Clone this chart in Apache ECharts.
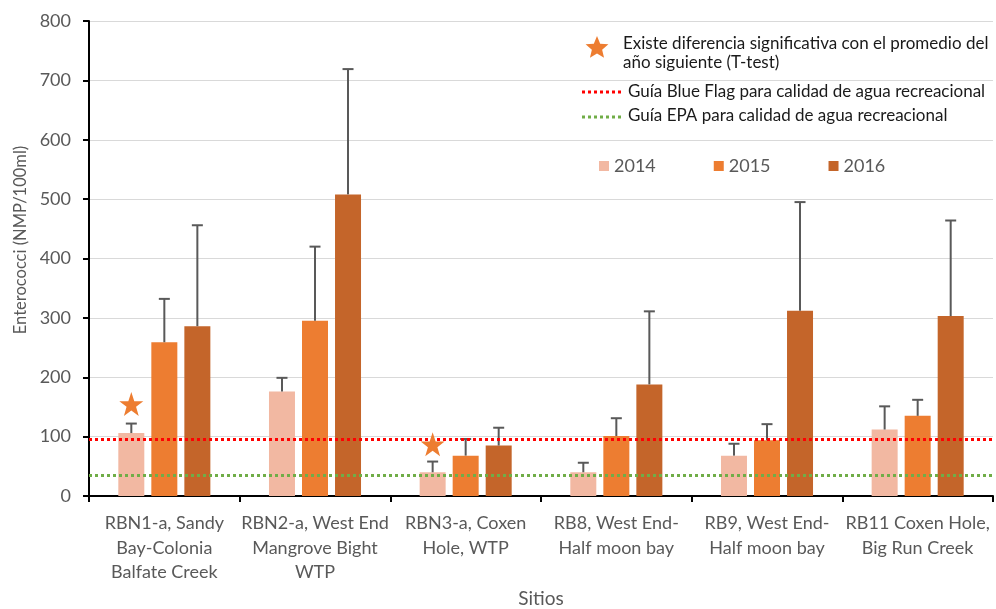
<!DOCTYPE html>
<html>
<head>
<meta charset="utf-8">
<script src="https://cdn.jsdelivr.net/npm/echarts@6/dist/echarts.min.js"></script>
<style>
  html, body { margin: 0; padding: 0; background: #fff; }
  #chart { width: 996px; height: 609px; }
</style>
</head>
<body>
<div id="chart"></div>
<script>
// Sites sampled
const sites = [
  'RBN1-a, Sandy\nBay-Colonia\nBalfate Creek',
  'RBN2-a, West End\nMangrove Bight\nWTP',
  'RBN3-a, Coxen\nHole, WTP',
  'RB8, West End-\nHalf moon bay',
  'RB9, West End-\nHalf moon bay',
  'RB11 Coxen Hole,\nBig Run Creek'
];
const years = ['2014', '2015', '2016'];

// Mean enterococci (NMP/100ml) per site and year
const mean2014 = [106, 176, 40, 40, 68, 112];
const mean2015 = [259, 295, 68, 101, 94, 135];
const mean2016 = [286, 508, 85, 188, 312, 303];

// Standard deviation (upper error bar)
const sd2014 = [16, 23, 18, 16, 20, 39];
const sd2015 = [73, 125, 28, 30, 27, 27];
const sd2016 = [170, 211, 30, 123, 183, 161];

// Significant difference vs. following year (star marker height)
const signif = [155, null, 87, null, null, null];

// Guideline thresholds
const blueFlag = 96;
const epa = 35;

const yTicks = [0, 100, 200, 300, 400, 500, 600, 700, 800];

const colors = ['#F2B8A2', '#ED7D31', '#C4652A'];
const means = [mean2014, mean2015, mean2016];
const sds = [sd2014, sd2015, sd2016];

const BAR_W = 26;
const GAP_RATIO = 0.27;
const STEP = BAR_W * (1 + GAP_RATIO);

const FONT = 'Lato, "Liberation Sans", Arial, sans-serif';
const STAR = 'path://M50,0 L61.8,35.1 L97.6,35.1 L68.8,56.7 L79.4,91.9 L50,70.5 L20.6,91.9 L31.2,56.7 L2.4,35.1 L38.2,35.1 Z';

// five-point star outline around (cx, cy)
function starPoints(cx, cy, r) {
  const pts = [];
  for (let j = 0; j < 10; j++) {
    const rr = j % 2 === 0 ? r : r * 0.45;
    const a = -Math.PI / 2 + j * Math.PI / 5;
    pts.push([cx + rr * Math.cos(a), cy + rr * Math.sin(a)]);
  }
  return pts;
}

const chart = echarts.init(document.getElementById('chart'), null, { renderer: 'canvas' });

const barSeries = years.map((y, i) => ({
  name: y,
  type: 'bar',
  data: means[i],
  barWidth: BAR_W,
  barGap: (GAP_RATIO * 100) + '%',
  itemStyle: { color: colors[i] },
  z: 2
}));

const errSeries = years.map((y, i) => ({
  name: y + ' sd',
  type: 'custom',
  data: means[i].map((m, k) => [k, m, sds[i][k]]),
  z: 4,
  renderItem: function (params, api) {
    const k = api.value(0), m = api.value(1), s = api.value(2);
    const base = api.coord([k, m]);
    const top = api.coord([k, m + s]);
    const x = base[0] + (i - 1) * STEP;
    const st = { stroke: '#595959', lineWidth: 2 };
    return {
      type: 'group',
      children: [
        { type: 'line', shape: { x1: x, y1: base[1], x2: x, y2: top[1] }, style: st },
        { type: 'line', shape: { x1: x - 5.5, y1: top[1], x2: x + 5.5, y2: top[1] }, style: st }
      ]
    };
  }
}));

const starSeries = {
  name: 'signif',
  type: 'scatter',
  data: signif,
  symbol: STAR,
  symbolSize: 24,
  symbolOffset: [-STEP, 0],
  itemStyle: { color: '#ED7D31', opacity: 1 },
  z: 5
};

const guideSeries = {
  name: 'guides',
  type: 'line',
  data: [],
  markLine: {
    silent: true,
    symbol: 'none',
    label: { show: false },
    data: [
      { yAxis: blueFlag, lineStyle: { color: '#FF0000', width: 3, type: [3, 3], opacity: 1 } },
      { yAxis: epa, lineStyle: { color: '#70AD47', width: 3, type: [3, 3], opacity: 1 } }
    ]
  },
  z: 3
};

const txt = { fill: '#1a1a1a', font: '17px ' + FONT };

chart.setOption({
  animation: false,
  grid: { left: 89, top: 21, right: 3, bottom: 113, outerBoundsMode: 'none', containLabel: false },
  legend: {
    data: years,
    left: 599, top: 157, padding: 0,
    icon: 'rect', itemWidth: 10, itemHeight: 10, itemGap: 58,
    textStyle: { fontFamily: FONT, fontSize: 18, color: '#595959' }
  },
  xAxis: {
    type: 'category',
    data: sites,
    name: 'Sitios',
    nameLocation: 'middle',
    nameGap: 89,
    nameTextStyle: { fontFamily: FONT, fontSize: 19, color: '#595959' },
    axisLine: { lineStyle: { color: '#000', width: 2 } },
    axisTick: { show: true, length: 6, lineStyle: { color: '#000', width: 2 } },
    axisLabel: { fontFamily: FONT, fontSize: 18, color: '#595959', lineHeight: 24.5, margin: 15, interval: 0 }
  },
  yAxis: {
    type: 'value',
    min: yTicks[0], max: yTicks[yTicks.length - 1], interval: 100,
    axisLine: { show: true, lineStyle: { color: '#000', width: 2 } },
    axisTick: { show: true, length: 6, lineStyle: { color: '#000', width: 2 } },
    axisLabel: { fontFamily: FONT, fontSize: 18, color: '#595959', margin: 18 },
    splitLine: { lineStyle: { color: '#D9D9D9', width: 1 } }
  },
  graphic: [
    {
      type: 'text', x: 21, y: 240, rotation: Math.PI / 2,
      style: { text: 'Enterococci (NMP/100ml)', fill: '#595959', font: '16.5px ' + FONT, align: 'center', verticalAlign: 'middle' }
    },
    { type: 'polygon', shape: { points: starPoints(597, 48, 12) }, style: { fill: '#ED7D31' } },
    { type: 'text', x: 623, y: 44, style: Object.assign({ text: 'Existe diferencia significativa con el promedio del', verticalAlign: 'middle' }, txt) },
    { type: 'text', x: 623, y: 63, style: Object.assign({ text: 'año siguiente (T-test)', verticalAlign: 'middle' }, txt) },
    { type: 'line', shape: { x1: 582, y1: 92, x2: 621, y2: 92 }, style: { stroke: '#FF0000', lineWidth: 3, lineDash: [3, 3] } },
    { type: 'text', x: 628, y: 92, style: Object.assign({ text: 'Guía Blue Flag para calidad de agua recreacional', verticalAlign: 'middle' }, txt) },
    { type: 'line', shape: { x1: 582, y1: 117, x2: 621, y2: 117 }, style: { stroke: '#70AD47', lineWidth: 3, lineDash: [3, 3] } },
    { type: 'text', x: 628, y: 116, style: Object.assign({ text: 'Guía EPA para calidad de agua recreacional', verticalAlign: 'middle' }, txt) }
  ],
  series: [...barSeries, ...errSeries, starSeries, guideSeries]
});
</script>
</body>
</html>
